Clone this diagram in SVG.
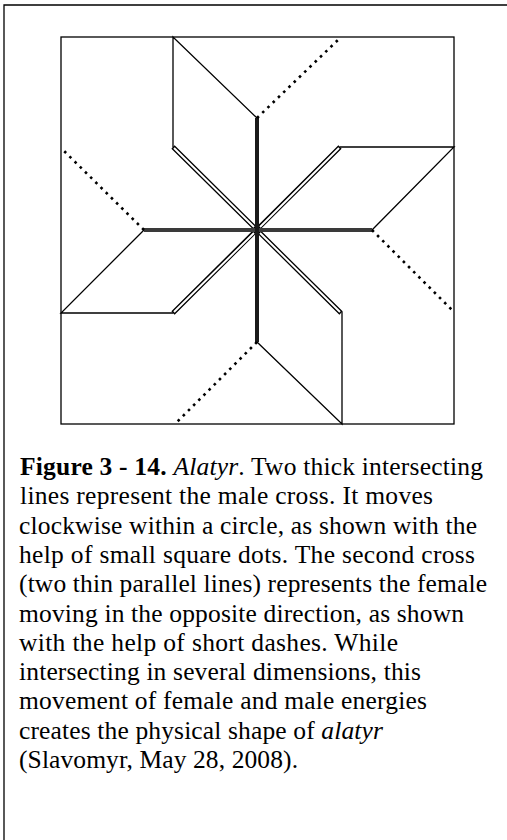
<svg xmlns="http://www.w3.org/2000/svg" width="507" height="840" viewBox="0 0 507 840">
<style>
.thin{stroke:#000;stroke-width:1.3;fill:none;stroke-linecap:round}
.dblo{stroke:#000;stroke-width:4.6;fill:none}
.dbli{stroke:#fff;stroke-width:2;fill:none}
.thick{stroke:#1a1a1a;stroke-width:4;fill:none}
.thickh{stroke:#3a3a3a;stroke-width:4;fill:none}
.dots{stroke:#000;stroke-width:2.6;fill:none;stroke-dasharray:2.6 4.7}
.cap{font-family:"Liberation Serif","Times New Roman",serif;font-size:25.5px;fill:#000;white-space:pre}
.b{font-weight:bold}
.i{font-style:italic}
</style>
<rect width="507" height="840" fill="#fff"/>
<g id="frame">
<path class="thin" d="M4,840 V5 H507"/>
</g>
<g id="square">
<rect class="thin" x="61" y="37" width="393" height="387"/>
</g>
<g id="rhombi">
<path class="thin" d="M257,118 L173,37 V147"/>
<path class="thin" d="M340,147 H454 L372,230"/>
<path class="thin" d="M257,342 L342,424 V312"/>
<path class="thin" d="M144,230 L61,313 H173"/>
</g>
<g id="female-cross">
<path class="dblo" d="M173,147 L341,313 M340,147 L173,313"/>
<path class="dbli" d="M174,148 L254,227 M260,233 L340,312 M339,148 L260,227 M254,233 L174,312"/>
</g>
<g id="male-cross">
<path class="thickh" d="M144,230 H372"/>
<path class="thick" d="M257,118 V342"/>
</g>
<g id="dots">
<path class="dots" d="M257,118 L340,38"/>
<path class="dots" d="M372,230 L454,312"/>
<path class="dots" d="M257,342 L175,424"/>
<path class="dots" d="M144,230 L61,148"/>
</g>
<g id="caption" class="cap">
<text x="20" y="475" textLength="463" lengthAdjust="spacing"><tspan class="b">Figure 3 - 14.</tspan> <tspan class="i">Alatyr</tspan>. Two thick intersecting</text>
<text x="20" y="504.3" textLength="413" lengthAdjust="spacing">lines represent the male cross.  It moves</text>
<text x="19" y="533.6" textLength="458" lengthAdjust="spacing">clockwise within a circle, as shown with the</text>
<text x="19" y="562.9" textLength="456" lengthAdjust="spacing">help of small square dots.  The second cross</text>
<text x="19" y="592.2" textLength="468" lengthAdjust="spacing">(two thin parallel lines) represents the female</text>
<text x="19" y="621.5" textLength="445" lengthAdjust="spacing">moving in the opposite direction, as shown</text>
<text x="19" y="650.8" textLength="379" lengthAdjust="spacing">with the help of short dashes.  While</text>
<text x="19" y="680.1" textLength="402" lengthAdjust="spacing">intersecting in several dimensions, this</text>
<text x="19" y="709.4" textLength="408" lengthAdjust="spacing">movement of female and male energies</text>
<text x="19" y="738.7" textLength="364" lengthAdjust="spacing">creates the physical shape of <tspan class="i">alatyr</tspan></text>
<text x="19" y="768" textLength="279" lengthAdjust="spacing">(Slavomyr, May 28, 2008).</text>
</g>
</svg>
